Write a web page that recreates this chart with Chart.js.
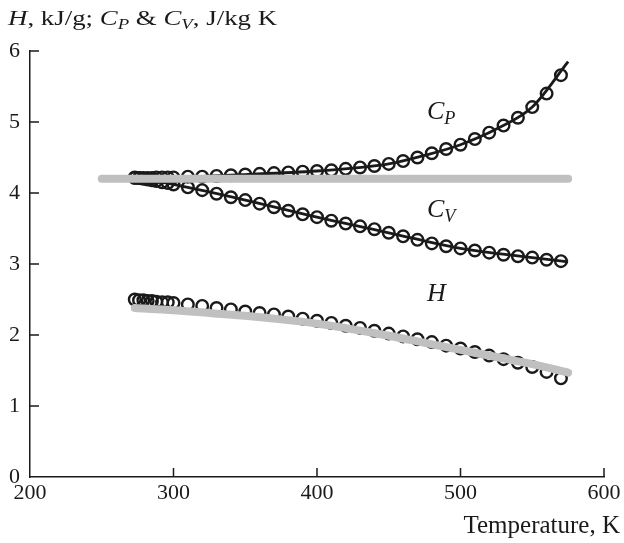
<!DOCTYPE html>
<html>
<head>
<meta charset="utf-8">
<script src="https://cdn.jsdelivr.net/npm/chart.js@4.4.0/dist/chart.umd.min.js"></script>
<style>
  body { margin: 0; background: #fff; }
  #wrap { position: relative; width: 624px; height: 543px; }
  .lbl { position: absolute; font-family: "Liberation Serif", "Times New Roman", serif; color: #1a1a1a; line-height: 1; white-space: nowrap; }
  .lbl i sub { font-size: 70%; vertical-align: -0.25em; line-height: 0; }
</style>
</head>
<body>
<div id="wrap">
  <canvas id="chart"></canvas>
  <div class="lbl" style="left:8px; top:7px; font-size:22px; transform:scaleX(1.22); transform-origin:left top;"><i>H</i>, kJ/g; <i>C<sub>P</sub></i> &amp; <i>C<sub>V</sub></i>, J/kg K</div>
  <div class="lbl" style="right:4px; top:512px; font-size:25px;">Temperature, K</div>
  <div class="lbl" style="left:427px; top:98px; font-size:26px;"><i>C<sub>P</sub></i></div>
  <div class="lbl" style="left:427px; top:196px; font-size:26px;"><i>C<sub>V</sub></i></div>
  <div class="lbl" style="left:427px; top:280px; font-size:26px;"><i>H</i></div>
</div>
<script>
// measured points (circles)
const tempK = [273, 276, 279, 282, 285, 288, 292, 296, 300, 310, 320, 330, 340, 350, 360, 370, 380, 390,
  400, 410, 420, 430, 440, 450, 460, 470, 480, 490, 500, 510, 520, 530, 540, 550, 560, 570]
const cpData = [4.21, 4.21, 4.21, 4.21, 4.21, 4.22, 4.22, 4.22, 4.22, 4.23, 4.23, 4.24, 4.25, 4.26, 4.27, 4.28, 4.29, 4.30,
  4.31, 4.32, 4.34, 4.36, 4.38, 4.41, 4.45, 4.50, 4.56, 4.62, 4.68, 4.76, 4.85, 4.95, 5.06, 5.21, 5.40, 5.66]
const cvData = [4.22, 4.21, 4.20, 4.19, 4.18, 4.17, 4.15, 4.14, 4.12, 4.08, 4.04, 3.99, 3.94, 3.90, 3.85, 3.80, 3.75, 3.70,
  3.66, 3.61, 3.57, 3.53, 3.49, 3.44, 3.39, 3.34, 3.29, 3.25, 3.22, 3.19, 3.16, 3.13, 3.11, 3.09, 3.06, 3.04]
const hData = [2.50, 2.49, 2.49, 2.48, 2.48, 2.47, 2.46, 2.46, 2.45, 2.43, 2.41, 2.38, 2.36, 2.33, 2.31, 2.29, 2.26, 2.23,
  2.20, 2.17, 2.13, 2.10, 2.06, 2.02, 1.98, 1.94, 1.90, 1.85, 1.81, 1.76, 1.71, 1.66, 1.61, 1.55, 1.48, 1.39]

// black fit lines
const cpFitT = [273, 300, 350, 400, 425, 450, 475, 500, 525, 550, 575]
const cpFit = [4.21, 4.22, 4.26, 4.31, 4.35, 4.41, 4.53, 4.68, 4.90, 5.21, 5.85]
const cvFitT = [273, 300, 350, 400, 450, 500, 550, 575]
const cvFit = [4.22, 4.12, 3.90, 3.66, 3.44, 3.22, 3.09, 3.03]

// grey lines
const cpConstT = [250, 575]
const cpConst = [4.2, 4.2]
const hFitT = [273, 300, 325, 350, 375, 400, 425, 450, 475, 500, 525, 550, 575]
const hFit = [2.38, 2.35, 2.31, 2.27, 2.22, 2.16, 2.08, 1.99, 1.89, 1.79, 1.69, 1.59, 1.47]

const xTicks = [200, 300, 400, 500, 600]
const yTicks = [0, 1, 2, 3, 4, 5, 6]

const pts = (xs, ys) => xs.map((x, i) => ({ x: x, y: ys[i] }))
const font = { family: '"Liberation Serif", "Times New Roman", serif', size: 22 }
const ink = '#1a1a1a'
const grey = '#c0c0c0'

const greyLine = (data) => ({
  data, showLine: true, pointRadius: 0, borderColor: grey, borderWidth: 8,
  borderCapStyle: 'round', borderJoinStyle: 'round', cubicInterpolationMode: 'monotone'
})
const blackLine = (data) => ({
  data, showLine: true, pointRadius: 0, borderColor: ink, borderWidth: 2.8,
  cubicInterpolationMode: 'monotone'
})
const circles = (data) => ({
  data, showLine: false, pointRadius: 5.8, pointHoverRadius: 5.8, pointBorderWidth: 2.4,
  pointBorderColor: ink, pointBackgroundColor: 'rgba(0,0,0,0)'
})

// ticks point inward, like the original figure
const inwardTicks = {
  id: 'inwardTicks',
  afterDraw(chart) {
    const { ctx, scales: { x, y } } = chart
    ctx.save()
    ctx.strokeStyle = ink
    ctx.lineWidth = 1.5
    ctx.beginPath()
    xTicks.slice(1).forEach(v => {
      const px = x.getPixelForValue(v)
      ctx.moveTo(px, y.bottom)
      ctx.lineTo(px, y.bottom - 9)
    })
    yTicks.slice(1).forEach(v => {
      const py = y.getPixelForValue(v)
      ctx.moveTo(x.left, py)
      ctx.lineTo(x.left + 9, py)
    })
    ctx.stroke()
    ctx.restore()
  }
}

new Chart(document.getElementById('chart'), {
  type: 'scatter',
  data: {
    datasets: [
      greyLine(pts(cpConstT, cpConst)),
      greyLine(pts(hFitT, hFit)),
      blackLine(pts(cpFitT, cpFit)),
      blackLine(pts(cvFitT, cvFit)),
      circles(pts(tempK, cpData)),
      circles(pts(tempK, cvData)),
      circles(pts(tempK, hData))
    ]
  },
  options: {
    responsive: true,
    maintainAspectRatio: false,
    animation: false,
    layout: { padding: { top: 51, right: 20, left: 0, bottom: 0 } },
    plugins: { legend: { display: false }, tooltip: { enabled: false } },
    scales: {
      x: {
        type: 'linear', min: 200, max: 600,
        afterFit: (s) => { s.height = 66 },
        afterBuildTicks: (s) => { s.ticks = xTicks.map(v => ({ value: v })) },
        ticks: { font, color: ink, padding: 3, maxRotation: 0, autoSkip: false },
        grid: { drawOnChartArea: false, drawTicks: false },
        border: { color: ink, width: 1.5 }
      },
      y: {
        type: 'linear', min: 0, max: 6,
        afterFit: (s) => { s.width = 30 },
        afterBuildTicks: (s) => { s.ticks = yTicks.map(v => ({ value: v })) },
        ticks: { font, color: ink, padding: 10 },
        grid: { drawOnChartArea: false, drawTicks: false },
        border: { color: ink, width: 1.5 }
      }
    }
  },
  plugins: [inwardTicks]
})
</script>
</body>
</html>
